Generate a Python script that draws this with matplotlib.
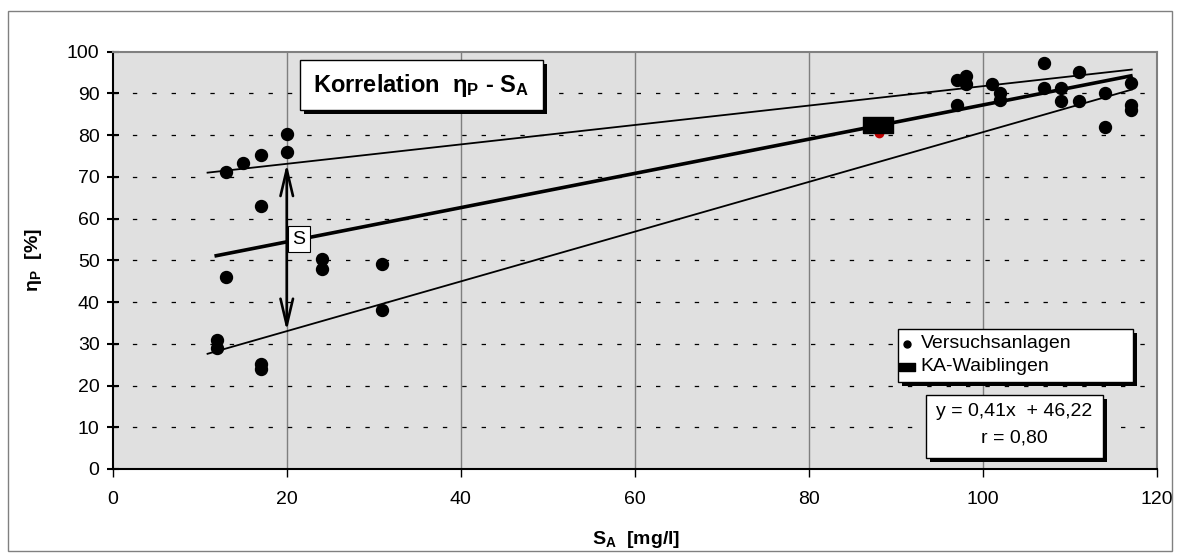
import numpy as np
import matplotlib
matplotlib.use("Agg")
import matplotlib.pyplot as plt
from matplotlib.patches import Rectangle
from matplotlib.lines import Line2D

plt.rcParams['font.family'] = ['Liberation Sans', 'DejaVu Sans']
plt.rcParams['mathtext.fontset'] = 'custom'
plt.rcParams['mathtext.rm'] = 'Liberation Sans'
plt.rcParams['mathtext.it'] = 'Liberation Sans:italic'
plt.rcParams['mathtext.bf'] = 'Liberation Sans:bold'
plt.rcParams['font.size'] = 14

# Versuchsanlagen (pilot plants)
sa_versuch = [12, 12, 13, 13, 15, 17, 17, 17, 17, 20, 20, 24, 24, 31, 31,
              97, 97, 98, 98, 101, 102, 102, 107, 107, 109, 109, 111, 111,
              114, 114, 117, 117, 117]
eta_versuch = [30.9, 28.9, 71.1, 46.1, 73.3, 75.2, 63.0, 25.2, 23.9, 80.2, 76.0,
               50.3, 47.9, 49.1, 38.1,
               93.2, 87.2, 94.2, 92.3, 92.3, 90.2, 88.3, 97.2, 91.2, 91.2, 88.2,
               95.2, 88.2, 90.2, 81.9, 92.4, 87.2, 86.0]

# KA-Waiblingen
sa_ka = [87.9]
eta_ka = [82.4]
sa_ka_red = [88.1]
eta_ka_red = [80.6]

# regression y = 0,41x + 46,22
slope, intercept = 0.41, 46.22
fit_x = [11.9, 117.0]
# scatter band lines (start, end)
upper_x = [10.9, 117.1]
upper_y = [71.0, 95.7]
lower_x = [10.9, 117.1]
lower_y = [27.6, 90.9]

# scatter width S at x = 20
s_x = 20
s_lo, s_hi = 33.1, 73.1

x_ticks = np.arange(0, 121, 20)
y_ticks = np.arange(0, 101, 10)

fig = plt.figure(figsize=(11.8, 5.58), dpi=100)
ax = fig.add_axes([0.0955, 0.1595, 0.885, 0.748])
ax.set_facecolor('#e0e0e0')

# outer frame of the chart
fig.patches.append(Rectangle((8 / 1180, 1 - 551 / 558), 1164 / 1180, 540 / 558,
                             transform=fig.transFigure, fill=False,
                             edgecolor='#808080', lw=1))

ax.set_xlim(0, 120)
ax.set_ylim(0, 100)
ax.set_xticks(x_ticks)
ax.set_yticks(y_ticks)

for xv in x_ticks[1:-1]:
    ax.axvline(xv, color='#7f7f7f', lw=1, zorder=1)
for yv in y_ticks[1:-1]:
    ax.axhline(yv, color='black', lw=0.9, dashes=(3.5, 12), zorder=1)

for side in ['top', 'right']:
    ax.spines[side].set_color('#808080')
    ax.spines[side].set_linewidth(1.5)
for side in ['left', 'bottom']:
    ax.spines[side].set_color('black')
    ax.spines[side].set_linewidth(1.5)

ax.tick_params(axis='y', direction='inout', length=9, width=1.5, pad=5, labelsize=14)
ax.tick_params(axis='x', direction='out', length=6, width=1, pad=10, labelsize=14)

# lines
fx = np.array(fit_x)
ax.plot(fx, slope * fx + intercept, color='black', lw=2.6, zorder=3)
ax.plot(upper_x, upper_y, color='black', lw=1.3, zorder=3)
ax.plot(lower_x, lower_y, color='black', lw=1.3, zorder=3)

# points
ax.plot(sa_versuch, eta_versuch, 'o', color='black', ms=8.6, zorder=4)
ax.plot(sa_ka_red, eta_ka_red, 'o', color='#c00000', ms=6, zorder=4)
rect_marker = [(-1, -0.53), (1, -0.53), (1, 0.53), (-1, 0.53), (-1, -0.53)]
ax.plot(sa_ka, eta_ka, marker=rect_marker, color='black', ms=21.6, ls='none', zorder=5)

# S arrow
ax.annotate('', xy=(s_x, s_hi), xytext=(s_x, s_lo),
            arrowprops=dict(arrowstyle='<->,head_length=1.9,head_width=0.45',
                            lw=1.9, color='black', shrinkA=0, shrinkB=0,
                            mutation_scale=10), zorder=5)
ax.text(s_x + 1.4, 55.1, 'S', ha='center', va='center', fontsize=14, zorder=6,
        bbox=dict(boxstyle='square,pad=0.25', fc='white', ec='black', lw=0.8))


def shadow_box(x0, y0, x1, y1):
    dx, dy = 4 / 1044.3, 4 / 417.3
    ax.add_patch(Rectangle((x0 + dx, y0 - dy), x1 - x0, y1 - y0, transform=ax.transAxes,
                           fc='black', ec='none', zorder=6, clip_on=False))
    ax.add_patch(Rectangle((x0, y0), x1 - x0, y1 - y0, transform=ax.transAxes,
                           fc='white', ec='black', lw=1, zorder=7, clip_on=False))


# title box
shadow_box(0.179, 0.860, 0.412, 0.980)
ax.text(0.2955, 0.919, r'Korrelation  $\mathbf{η_P}$ - $\mathbf{S_A}$', transform=ax.transAxes,
        ha='center', va='center', fontsize=17, fontweight='bold', zorder=8)

# legend box
shadow_box(0.752, 0.2085, 0.977, 0.3355)
ellipse_marker = [(-1, -0.7), (1, -0.7), (1, 0.7), (-1, 0.7), (-1, -0.7)]
ax.add_line(Line2D([0.7606], [0.2995], marker='o', ms=5, color='black',
                   transform=ax.transAxes, zorder=8, clip_on=False))
ax.add_line(Line2D([0.7606], [0.2444], marker=rect_marker, ms=11.5, color='black',
                   transform=ax.transAxes, zorder=8, clip_on=False))
ax.text(0.7735, 0.2995, 'Versuchsanlagen', transform=ax.transAxes, ha='left', va='center',
        fontsize=14, zorder=8)
ax.text(0.7735, 0.2444, 'KA-Waiblingen', transform=ax.transAxes, ha='left', va='center',
        fontsize=14, zorder=8)

# equation box
shadow_box(0.779, 0.026, 0.948, 0.177)
ax.text(0.8635, 0.137, 'y = 0,41x  + 46,22', transform=ax.transAxes, ha='center', va='center',
        fontsize=14, zorder=8)
ax.text(0.8635, 0.074, 'r = 0,80', transform=ax.transAxes, ha='center', va='center',
        fontsize=14, zorder=8)

ax.set_xlabel(r'$\mathbf{S_A}$  [mg/l]', fontsize=14, fontweight='bold', va='center')
ax.xaxis.set_label_coords(0.501, -0.170)
ax.set_ylabel(r'$\mathbf{η_P}$  [%]', fontsize=14, fontweight='bold', va='center')
ax.yaxis.set_label_coords(-0.076, 0.5)

fig.savefig('out.png', dpi=100)
